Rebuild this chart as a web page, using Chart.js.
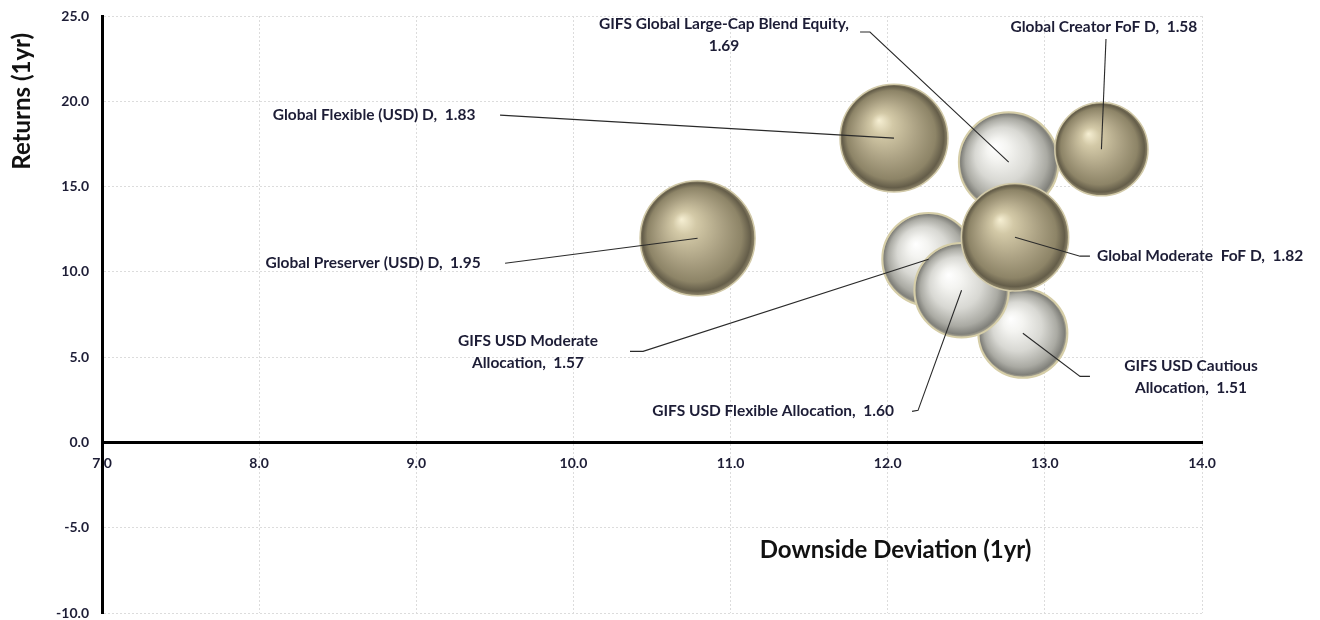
<!DOCTYPE html>
<html>
<head>
<meta charset="utf-8">
<script src="https://cdn.jsdelivr.net/npm/chart.js@4/dist/chart.umd.min.js"></script>
<style>
  html, body { margin: 0; padding: 0; background: #ffffff; }
  #wrap { width: 1320px; height: 620px; }
</style>
</head>
<body>
<div id="wrap"><canvas id="c" width="1320" height="620"></canvas></div>
<script>
// ---------------- DATA ----------------
const fundNames = [
  'Global Preserver (USD) D',
  'Global Flexible (USD) D',
  'Global Creator FoF D',
  'Global Moderate  FoF D',
  'GIFS Global Large-Cap Blend Equity',
  'GIFS USD Moderate Allocation',
  'GIFS USD Cautious Allocation',
  'GIFS USD Flexible Allocation'
];
const fundFamily        = ['Global', 'Global', 'Global', 'Global', 'GIFS', 'GIFS', 'GIFS', 'GIFS'];
const downsideDeviation = [10.79, 12.04, 13.36, 12.81, 12.77, 12.26, 12.86, 12.47];
const returns1yr        = [11.97, 17.84, 17.19, 12.03, 16.43, 10.74, 6.40, 8.92];
const bubbleValues      = [1.95, 1.83, 1.58, 1.82, 1.69, 1.57, 1.51, 1.60];

const xTickValues = [7, 8, 9, 10, 11, 12, 13, 14];
const yTickValues = [-10, -5, 0, 5, 10, 15, 20, 25];

const xAxisTitle = 'Downside Deviation (1yr)';
const yAxisTitle = 'Returns (1yr)';

// ---------------- LAYOUT / STYLE (annotation placement, not data) ----------------
const BUBBLE_PX_PER_UNIT = 29.5;
const labelLayout = [
  { at: [8.725, 10.50], align: 'center', words: 0, leader: [[9.565, 10.50]] },
  { at: [8.731, 19.19], align: 'center', words: 0, leader: [[9.533, 19.19]] },
  { at: [13.376, 24.35], align: 'center', words: 0, leader: [[13.389, 23.65]] },
  { at: [13.332, 10.92], align: 'left', words: 0, leader: [[13.287, 10.92], [13.224, 10.92]] },
  { at: [10.958, 23.91], align: 'center', words: 5, leader: [[11.824, 24.06], [11.887, 24.06]] },
  { at: [9.711, 5.31], align: 'center', words: 3, leader: [[10.360, 5.34], [10.443, 5.34]] },
  { at: [13.930, 3.81], align: 'center', words: 3, leader: [[13.287, 3.87], [13.224, 3.87]] },
  { at: [11.270, 1.82], align: 'center', words: 0, leader: [[12.155, 1.82], [12.193, 1.88]] }
];
const TEXT_COLOR = '#1d1d36';
const FONT_FAMILY = 'Lato, "Open Sans", sans-serif';

const palette = {
  Global: { stops: [[0, '#f6efd3'], [0.2, '#d3c9a7'], [0.55, '#aba183'], [0.82, '#8d8467'], [0.94, '#645d49'], [1, '#938a6e']], border: '#d2caa9' },
  GIFS:   { stops: [[0, '#ffffff'], [0.22, '#f4f4f1'], [0.55, '#d8d8d3'], [0.82, '#aaaaa3'], [0.95, '#80807a'], [1, '#b8b299']], border: '#d6cea8' }
};

// bubbles must not reserve extra outer padding (Excel-like fixed plot area)
Chart.BubbleController.prototype.getMaxOverflow = function () { return false; };

function sphereFill(context) {
  const chart = context.chart;
  const fam = context.dataset.family;
  const pal = palette[fam];
  if (!chart.chartArea || !context.raw) return pal.stops[2][1];
  const xs = chart.scales.x, ys = chart.scales.y;
  const cx = xs.getPixelForValue(context.raw.x);
  const cy = ys.getPixelForValue(context.raw.y);
  const r = context.raw.r;
  const g = chart.ctx.createRadialGradient(cx - 0.28 * r, cy - 0.33 * r, 0, cx, cy, r);
  pal.stops.forEach(s => g.addColorStop(s[0], s[1]));
  return g;
}

function buildDataset(family) {
  const pts = [];
  fundNames.forEach((n, i) => {
    if (fundFamily[i] === family) {
      pts.push({ x: downsideDeviation[i], y: returns1yr[i], r: bubbleValues[i] * BUBBLE_PX_PER_UNIT, idx: i });
    }
  });
  return {
    label: family,
    family: family,
    data: pts,
    backgroundColor: sphereFill,
    borderColor: palette[family].border,
    borderWidth: family === 'GIFS' ? 2 : 1.5,
    clip: false
  };
}

function labelLines(i) {
  const L = labelLayout[i];
  const val = bubbleValues[i].toFixed(2);
  const name = fundNames[i];
  if (!L.words) return [name + ',  ' + val];
  const words = name.split(' ');
  const first = words.slice(0, L.words).join(' ');
  const rest = words.slice(L.words).join(' ');
  if (rest) return [first, rest + ',  ' + val];
  return [first + ',', val];
}

const fundLabelPlugin = {
  id: 'fundLabels',
  afterDatasetsDraw(chart) {
    const { ctx } = chart;
    const xs = chart.scales.x, ys = chart.scales.y;
    ctx.save();
    ctx.strokeStyle = '#2a2a2a';
    ctx.lineWidth = 1.1;
    fundNames.forEach((name, i) => {
      const L = labelLayout[i];
      const pts = L.leader.map(p => [xs.getPixelForValue(p[0]), ys.getPixelForValue(p[1])]);
      pts.push([xs.getPixelForValue(downsideDeviation[i]), ys.getPixelForValue(returns1yr[i])]);
      ctx.beginPath();
      pts.forEach((p, k) => k ? ctx.lineTo(p[0], p[1]) : ctx.moveTo(p[0], p[1]));
      ctx.stroke();
    });
    ctx.font = 'bold 15.5px ' + FONT_FAMILY;
    ctx.fillStyle = TEXT_COLOR;
    ctx.textBaseline = 'middle';
    fundNames.forEach((name, i) => {
      const L = labelLayout[i];
      const lines = labelLines(i);
      const tx = xs.getPixelForValue(L.at[0]);
      const ty = ys.getPixelForValue(L.at[1]);
      ctx.textAlign = L.align;
      const lh = 22;
      lines.forEach((t, k) => ctx.fillText(t, tx, ty + (k - (lines.length - 1) / 2) * lh));
    });
    ctx.restore();
  }
};

const axisTitlePlugin = {
  id: 'axisTitles',
  afterDraw(chart) {
    const { ctx } = chart;
    const xs = chart.scales.x, ys = chart.scales.y;
    ctx.save();
    ctx.font = 'bold 24px ' + FONT_FAMILY;
    ctx.fillStyle = '#111111';
    ctx.textAlign = 'center';
    ctx.textBaseline = 'middle';
    ctx.fillText(xAxisTitle, xs.getPixelForValue(12.05), ys.getPixelForValue(-6.3));
    ctx.translate(22, ys.getPixelForValue(20.0));
    ctx.rotate(-Math.PI / 2);
    ctx.fillText(yAxisTitle, 0, 0);
    ctx.restore();
  }
};

new Chart(document.getElementById('c'), {
  type: 'bubble',
  data: { datasets: [buildDataset('Global'), buildDataset('GIFS')] },
  options: {
    responsive: false,
    animation: false,
    devicePixelRatio: 1,
    events: [],
    layout: { padding: { left: 0, top: 16, right: 118, bottom: 7 } },
    plugins: { legend: { display: false }, tooltip: { enabled: false } },
    scales: {
      x: {
        type: 'linear',
        position: { y: 0 },
        min: xTickValues[0],
        max: xTickValues[xTickValues.length - 1],
        afterBuildTicks(s) { s.ticks = xTickValues.map(v => ({ value: v })); },
        afterFit(s) { s.paddingLeft = 0; s.paddingRight = 0; },
        ticks: {
          callback: v => Number(v).toFixed(1),
          font: { family: FONT_FAMILY, size: 14, weight: 'bold' },
          color: TEXT_COLOR,
          padding: 13,
          maxRotation: 0,
          autoSkip: false
        },
        grid: { color: '#dcdcdc', lineWidth: 1, drawTicks: false },
        border: { color: '#000000', width: 3, dash: [2, 2] }
      },
      y: {
        type: 'linear',
        position: 'left',
        min: yTickValues[0],
        max: yTickValues[yTickValues.length - 1],
        afterBuildTicks(s) { s.ticks = yTickValues.map(v => ({ value: v })); },
        afterFit(s) { s.width = 102; s.paddingTop = 0; s.paddingBottom = 0; },
        ticks: {
          callback: v => Number(v).toFixed(1),
          font: { family: FONT_FAMILY, size: 14, weight: 'bold' },
          color: TEXT_COLOR,
          padding: 13,
          autoSkip: false
        },
        grid: { color: '#dcdcdc', lineWidth: 1, drawTicks: false },
        border: { color: '#000000', width: 3, dash: [2, 2] }
      }
    }
  },
  plugins: [fundLabelPlugin, axisTitlePlugin]
});
</script>
</body>
</html>
